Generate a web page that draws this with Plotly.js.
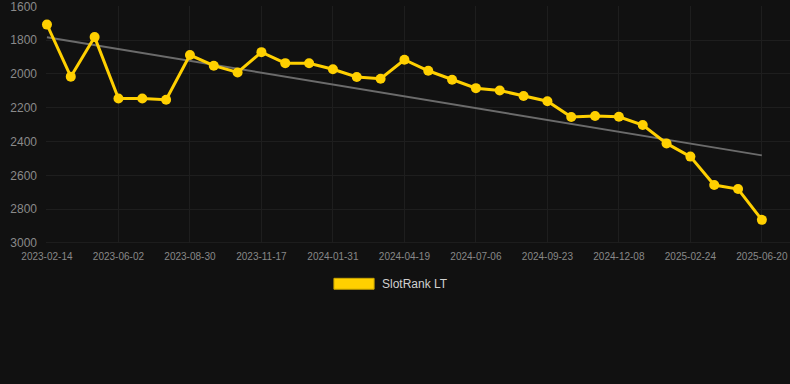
<!DOCTYPE html>
<html>
<head>
<meta charset="utf-8">
<script src="https://cdn.plot.ly/plotly-3.0.1.min.js"></script>
<style>
  html, body { margin: 0; padding: 0; background: #111111; }
  #chart { width: 790px; height: 384px; }
</style>
</head>
<body>
<div id="chart"></div>
<script>
// Dates (category axis), every third is labelled
const dates = [
  "2023-02-14","2023-03-20","2023-04-26","2023-06-02","2023-07-01","2023-07-31",
  "2023-08-30","2023-09-26","2023-10-22","2023-11-17","2023-12-12","2024-01-06",
  "2024-01-31","2024-02-26","2024-03-23","2024-04-19","2024-05-15","2024-06-10",
  "2024-07-06","2024-08-01","2024-08-28","2024-09-23","2024-10-18","2024-11-13",
  "2024-12-08","2025-01-04","2025-01-30","2025-02-24","2025-03-31","2025-05-05",
  "2025-06-20"
];
const rankValues = [
  1708, 2016, 1782, 2145, 2145, 2153, 1888, 1951, 1991, 1871, 1936, 1937,
  1972, 2018, 2028, 1916, 1981, 2034, 2084, 2098, 2130, 2161, 2255, 2249,
  2253, 2302, 2411, 2489, 2657, 2681, 2863
];
const tickLabels = [
  "2023-02-14","2023-06-02","2023-08-30","2023-11-17","2024-01-31","2024-04-19",
  "2024-07-06","2024-09-23","2024-12-08","2025-02-24","2025-06-20"
];
const yTicks = [1600, 1800, 2000, 2200, 2400, 2600, 2800, 3000];
const seriesName = "SlotRank LT";

// Linear trend (least squares) from the data
const n = rankValues.length;
let sx = 0, sy = 0, sxy = 0, sxx = 0;
rankValues.forEach((v, i) => { sx += i; sy += v; sxy += i * v; sxx += i * i; });
const slope = (n * sxy - sx * sy) / (n * sxx - sx * sx);
const intercept = (sy - slope * sx) / n;
const trendY = [intercept, intercept + slope * (n - 1)];
const trendX = [dates[0], dates[n - 1]];

const yellow = "#FFD000";

const traces = [
  {
    x: trendX, y: trendY, type: "scatter", mode: "lines",
    line: { color: "#6b6b6b", width: 2 },
    hoverinfo: "skip", showlegend: false
  },
  {
    x: dates, y: rankValues, type: "scatter", mode: "lines+markers",
    name: seriesName,
    line: { color: yellow, width: 3 },
    marker: { color: yellow, size: 10 },
    cliponaxis: false, showlegend: false
  }
];

const layout = {
  width: 790, height: 384,
  paper_bgcolor: "#111111", plot_bgcolor: "#111111",
  margin: { l: 46, r: 0, t: 6, b: 141 },
  font: { family: "Liberation Sans, Arial, sans-serif", color: "#8a8a8a" },
  showlegend: false,
  xaxis: {
    type: "category",
    categoryorder: "array", categoryarray: dates,
    range: [-0.04, 31.18],
    tickmode: "array", tickvals: tickLabels, ticktext: tickLabels,
    tickangle: 0,
    showgrid: true, gridcolor: "#1e1e1e", gridwidth: 1,
    zeroline: false, showline: false,
    ticks: "", ticklabelstandoff: 6,
    tickfont: { size: 10, color: "#888888" }
  },
  yaxis: {
    range: [3000, 1598],
    tickmode: "array", tickvals: yTicks,
    showgrid: true, gridcolor: "#1e1e1e", gridwidth: 1,
    zeroline: false, showline: false,
    ticks: "", ticklabelstandoff: 8,
    ticklabeloverflow: "allow",
    tickfont: { size: 12, color: "#8a8a8a" }
  },
  shapes: [
    {
      type: "line", xref: "paper", yref: "y",
      x0: 0, x1: 1, y0: 3000, y1: 3000,
      line: { color: "#2a2a2a", width: 1 }, layer: "below"
    },
    {
      type: "rect", xref: "paper", yref: "paper",
      x0: 0.387, x1: 0.441, y0: -0.195, y1: -0.149,
      fillcolor: yellow, line: { color: "#c9a400", width: 1 }
    }
  ],
  annotations: [
    {
      xref: "paper", yref: "paper", x: 0.449, y: -0.172,
      xanchor: "left", yanchor: "middle", showarrow: false,
      text: seriesName,
      font: { size: 12, color: "#d0d0d0", family: "Liberation Sans, Arial, sans-serif" }
    }
  ]
};

Plotly.newPlot("chart", traces, layout, { displayModeBar: false, staticPlot: true });
</script>
</body>
</html>
